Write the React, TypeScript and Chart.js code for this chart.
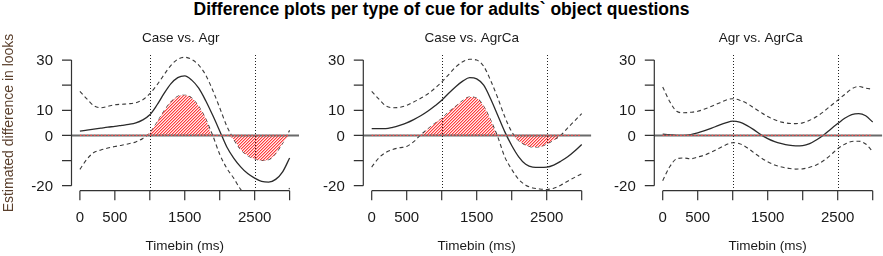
import React, { useEffect, useRef } from "react";
import { Chart, registerables } from "chart.js";

Chart.register(...registerables);

// ---------- data ----------
const timebins = [0, 100, 200, 300, 400, 500, 600, 700, 800, 900, 1000, 1100, 1200, 1300, 1400, 1500, 1600, 1700, 1800, 1900, 2000, 2100, 2200, 2300, 2400, 2500, 2600, 2700, 2800, 2900, 3000];

const caseAgrMean = [1.7, 2.1, 2.5, 2.9, 3.3, 3.6, 4.0, 4.4, 5.0, 6.2, 8.2, 12.0, 16.5, 20.5, 23.0, 23.7, 22.0, 18.8, 13.8, 8.0, 1.8, -4.5, -9.0, -12.5, -15.2, -17.0, -18.3, -18.6, -17.5, -14.5, -9.0];
const caseAgrUpper = [17.5, 14.5, 11.8, 11.0, 11.6, 12.2, 12.4, 12.6, 13.0, 14.2, 16.6, 20.0, 24.0, 27.8, 30.3, 31.1, 30.2, 28.0, 24.0, 18.0, 11.0, 3.8, -1.5, -5.5, -8.0, -9.3, -10.0, -9.6, -7.2, -3.0, 2.0];
const caseAgrLower = [-13.5, -9.5, -6.8, -5.8, -5.0, -4.4, -3.9, -3.3, -2.6, -1.2, 1.0, 5.0, 9.5, 13.2, 15.5, 16.0, 14.8, 11.5, 6.5, 0.0, -7.5, -13.0, -17.0, -21.5, -24.5, -26.5, -27.5, -28.0, -27.0, -25.0, -21.0];

const caseAgrCaMean = [2.7, 2.7, 2.7, 3.2, 4.0, 5.0, 6.3, 7.8, 9.6, 11.7, 14.0, 16.8, 19.4, 21.6, 23.0, 22.5, 20.0, 14.5, 8.0, 1.5, -4.0, -8.5, -11.5, -12.6, -12.7, -12.6, -11.8, -10.3, -8.5, -6.2, -3.6];
const caseAgrCaUpper = [17.5, 14.5, 11.8, 11.0, 11.2, 12.0, 13.3, 14.8, 16.5, 18.7, 21.2, 24.2, 27.2, 29.3, 30.3, 30.0, 27.5, 21.8, 15.0, 7.5, 1.5, -2.0, -3.8, -4.6, -4.5, -3.4, -1.8, 0.0, 3.0, 5.8, 8.7];
const caseAgrCaLower = [-12.6, -9.0, -6.8, -5.6, -4.9, -4.4, -2.5, 0.2, 2.5, 4.7, 6.7, 9.3, 11.5, 13.8, 15.3, 14.8, 11.5, 6.0, -0.5, -8.5, -13.5, -17.5, -19.8, -20.9, -21.3, -21.5, -21.0, -19.8, -18.2, -16.7, -15.3];

const agrAgrCaMean = [0.5, 0.3, 0.0, 0.0, 0.3, 1.0, 1.9, 2.9, 4.0, 5.0, 5.7, 5.3, 4.0, 2.3, 0.3, -1.3, -2.5, -3.3, -3.9, -4.2, -4.1, -3.3, -1.7, 0.2, 2.5, 4.7, 6.8, 8.3, 8.7, 7.8, 5.3];
const agrAgrCaUpper = [19.3, 13.5, 9.6, 9.0, 9.2, 9.6, 10.5, 11.6, 12.8, 14.0, 14.6, 14.0, 12.8, 11.0, 9.2, 7.5, 6.2, 5.3, 4.8, 4.7, 5.0, 6.0, 7.5, 9.5, 11.8, 14.0, 16.3, 18.5, 19.5, 18.8, 18.4];
const agrAgrCaLower = [-18.0, -12.5, -9.3, -9.0, -9.3, -8.6, -7.8, -6.6, -5.2, -3.8, -2.9, -3.3, -4.8, -6.8, -8.8, -10.5, -11.8, -12.6, -13.1, -13.4, -13.3, -12.7, -11.7, -10.0, -7.8, -5.3, -3.5, -2.4, -2.3, -3.4, -6.4];

const panelTitles = ["Case vs. Agr", "Case vs. AgrCa", "Agr vs. AgrCa"];
const mainTitle = "Difference plots per type of cue for adults` object questions";
const yAxisTitle = "Estimated difference in looks";
const xAxisTitle = "Timebin (ms)";

const xTickValues = [0, 500, 1000, 1500, 2000, 2500, 3000];
const xTickLabels = ["0", "500", "", "1500", "", "2500", ""];
const yTickValues = [-20, -10, 0, 10, 20, 30];
const yTickLabels = ["-20", "", "0", "10", "", "30"];
const markerTimes = [1000, 2500];

const X_MIN = -120;
const X_MAX = 3120;
const Y_MIN = -22;
const Y_MAX = 32;

const FONT = "'Liberation Sans', Arial, Helvetica, sans-serif";

function makeHatch(): CanvasPattern | string {
  const period = 3;
  const size = 6;
  const c = document.createElement("canvas");
  c.width = size;
  c.height = size;
  const g = c.getContext("2d");
  if (!g) return "rgba(255,100,100,0.6)";
  const shades = ["rgb(255,165,165)", "rgb(255,238,238)", "rgb(255,60,60)"];
  for (let y = 0; y < size; y++) {
    for (let x = 0; x < size; x++) {
      g.fillStyle = shades[(x + y) % period];
      g.fillRect(x, y, 1, 1);
    }
  }
  const p = g.createPattern(c, "repeat");
  return p || "rgba(255,100,100,0.6)";
}

type PanelProps = {
  title: string;
  mean: number[];
  upper: number[];
  lower: number[];
  left: number;
  padLeft: number;
  padRight: number;
  titleShift: number;
  showYTitle: boolean;
};

function Panel(props: PanelProps) {
  const ref = useRef<HTMLCanvasElement | null>(null);

  useEffect(() => {
    const canvas = ref.current;
    if (!canvas) return;
    const pts = (arr: number[]) => timebins.map((t, i) => ({ x: t, y: arr[i] }));
    const sig = timebins.map((t, i) => {
      const lo = props.lower[i];
      const up = props.upper[i];
      const v = lo > 0 ? lo : up < 0 ? up : 0;
      return { x: t, y: v };
    });
    const hatch = makeHatch();

    const overlay = {
      id: "rAxes",
      afterDatasetsDraw(chart: any) {
        const ctx = chart.ctx as CanvasRenderingContext2D;
        const xs = chart.scales.x;
        const ys = chart.scales.y;
        const area = chart.chartArea;
        const y0 = ys.getPixelForValue(0);
        ctx.save();
        ctx.strokeStyle = "#6a6a6a";
        ctx.lineWidth = 2;
        ctx.setLineDash([]);
        ctx.beginPath();
        ctx.moveTo(area.left, y0);
        ctx.lineTo(area.right + 1, y0);
        ctx.stroke();
        ctx.strokeStyle = "#ff4d4d";
        ctx.lineWidth = 1.3;
        ctx.setLineDash([1.5, 2]);
        ctx.beginPath();
        ctx.moveTo(xs.getPixelForValue(timebins[0]), y0);
        ctx.lineTo(xs.getPixelForValue(timebins[timebins.length - 1]), y0);
        ctx.stroke();
        ctx.strokeStyle = "#222";
        ctx.lineWidth = 1;
        ctx.setLineDash([1, 2]);
        markerTimes.forEach((t) => {
          const px = Math.round(xs.getPixelForValue(t)) + 0.5;
          ctx.beginPath();
          ctx.moveTo(px, area.top);
          ctx.lineTo(px, area.bottom);
          ctx.stroke();
        });
        ctx.restore();
      },
      afterDraw(chart: any) {
        const ctx = chart.ctx as CanvasRenderingContext2D;
        const xs = chart.scales.x;
        const ys = chart.scales.y;
        const area = chart.chartArea;
        ctx.save();
        ctx.setLineDash([]);
        ctx.strokeStyle = "#333";
        ctx.lineWidth = 1.2;
        const ax = area.left;
        ctx.beginPath();
        ctx.moveTo(ax, ys.getPixelForValue(yTickValues[0]));
        ctx.lineTo(ax, ys.getPixelForValue(yTickValues[yTickValues.length - 1]));
        yTickValues.forEach((v) => {
          const py = ys.getPixelForValue(v);
          ctx.moveTo(ax, py);
          ctx.lineTo(ax - 9.5, py);
        });
        const ay = area.bottom;
        ctx.moveTo(xs.getPixelForValue(xTickValues[0]), ay);
        ctx.lineTo(xs.getPixelForValue(xTickValues[xTickValues.length - 1]), ay);
        xTickValues.forEach((v) => {
          const px = xs.getPixelForValue(v);
          ctx.moveTo(px, ay);
          ctx.lineTo(px, ay + 9.5);
        });
        ctx.stroke();

        ctx.fillStyle = "#1a1a1a";
        ctx.font = `15px ${FONT}`;
        ctx.textAlign = "right";
        ctx.textBaseline = "middle";
        yTickValues.forEach((v, i) => {
          if (!yTickLabels[i]) return;
          ctx.fillText(yTickLabels[i], ax - 18.5, ys.getPixelForValue(v) + 1);
        });
        ctx.textAlign = "center";
        xTickValues.forEach((v, i) => {
          if (!xTickLabels[i]) return;
          ctx.fillText(xTickLabels[i], xs.getPixelForValue(v), 218);
        });

        const cx = (area.left + area.right) / 2;
        ctx.font = `13.5px ${FONT}`;
        ctx.textBaseline = "alphabetic";
        ctx.fillText(xAxisTitle, cx, 250);
        ctx.fillText(props.title, cx + props.titleShift, 41.5);

        if (props.showYTitle) {
          ctx.save();
          ctx.translate(13, 123);
          ctx.rotate(-Math.PI / 2);
          ctx.font = `14px ${FONT}`;
          ctx.fillStyle = "#5a3f2c";
          ctx.textAlign = "center";
          ctx.fillText(yAxisTitle, 0, 0);
          ctx.restore();
        }
        ctx.restore();
      },
    };

    const common = {
      pointRadius: 0,
      pointHoverRadius: 0,
      cubicInterpolationMode: "monotone" as const,
    };

    const chart = new Chart(canvas, {
      type: "line",
      data: {
        datasets: [
          {
            ...common,
            data: sig,
            fill: { target: "origin", above: hatch as any, below: hatch as any },
            backgroundColor: (() => hatch) as any,
            borderColor: "rgba(0,0,0,0)",
            borderWidth: 1,
          },
          {
            ...common,
            data: pts(props.upper),
            fill: false,
            borderColor: "#3a3a3a",
            borderWidth: 1.1,
            borderDash: [4, 3],
          },
          {
            ...common,
            data: pts(props.lower),
            fill: false,
            borderColor: "#3a3a3a",
            borderWidth: 1.1,
            borderDash: [4, 3],
          },
          {
            ...common,
            data: pts(props.mean),
            fill: false,
            borderColor: "#2a2a2a",
            borderWidth: 1.3,
          },
        ],
      },
      options: {
        animation: false,
        responsive: false,
        maintainAspectRatio: false,
        events: [],
        layout: {
          padding: { left: props.padLeft, right: props.padRight, top: 55, bottom: 65.3 },
        },
        scales: {
          x: { type: "linear", min: X_MIN, max: X_MAX, display: false },
          y: { type: "linear", min: Y_MIN, max: Y_MAX, display: false },
        },
        plugins: {
          legend: { display: false },
          tooltip: { enabled: false },
          title: { display: false },
        },
      },
      plugins: [overlay],
    });
    return () => chart.destroy();
  }, []);

  return (
    <canvas
      ref={ref}
      width={300}
      height={256}
      style={{ position: "absolute", left: props.left, top: 0, width: 300, height: 256 }}
    />
  );
}

export default function App() {
  return (
    <div style={{ position: "absolute", left: 0, top: 0, width: 883, height: 256, background: "#fff", overflow: "hidden" }}>
      <div
        style={{
          position: "absolute",
          left: 0,
          top: -1,
          width: 883,
          textAlign: "center",
          font: `bold 17.5px ${FONT}`,
          lineHeight: "20px",
          color: "#000",
          whiteSpace: "nowrap",
        }}
      >
        {mainTitle}
      </div>
      <Panel title={panelTitles[0]} mean={caseAgrMean} upper={caseAgrUpper} lower={caseAgrLower} left={0} padLeft={71.5} padRight={2} titleShift={-4} showYTitle={true} />
      <Panel title={panelTitles[1]} mean={caseAgrCaMean} upper={caseAgrCaUpper} lower={caseAgrCaLower} left={292} padLeft={71.3} padRight={1.9} titleShift={-5} showYTitle={false} />
      <Panel title={panelTitles[2]} mean={agrAgrCaMean} upper={agrAgrCaUpper} lower={agrAgrCaLower} left={583} padLeft={71.3} padRight={1.9} titleShift={-7} showYTitle={false} />
    </div>
  );
}
